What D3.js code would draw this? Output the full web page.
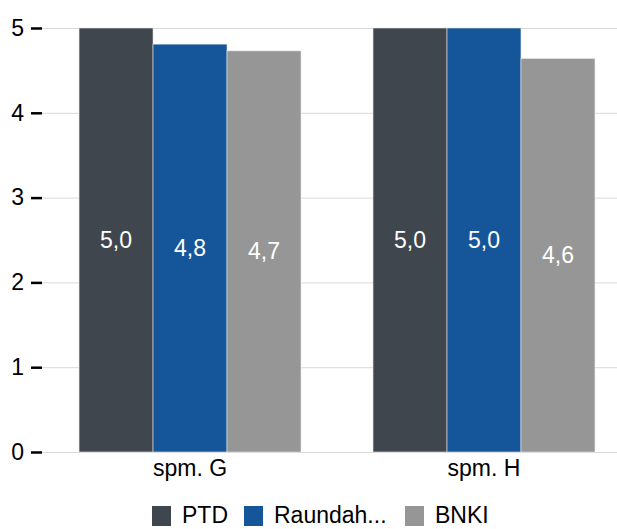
<!DOCTYPE html>
<html>
<head>
<meta charset="utf-8">
<script src="https://cdn.jsdelivr.net/npm/d3@7"></script>
<style>
  html, body { margin: 0; padding: 0; background: #fff; }
  svg { display: block; font-family: "Liberation Sans", Arial, sans-serif; }
</style>
</head>
<body>
<div id="chart"></div>
<script>
// chart data
const categories = ['spm. G', 'spm. H'];
const seriesNames = ['PTD', 'Raundah...', 'BNKI'];
const seriesColors = ['#40464d', '#15569a', '#969696'];
const ptdValues = [5.0, 5.0];
const raundahValues = [4.81, 5.0];
const bnkiValues = [4.73, 4.64];
const yTicks = [0, 1, 2, 3, 4, 5];

const seriesValues = [ptdValues, raundahValues, bnkiValues];

const width = 617, height = 529;
const fontSize = 23;
const svg = d3.select('#chart').append('svg')
    .attr('width', width)
    .attr('height', height);

const plotLeft = 42, plotRight = 632;
const y = d3.scaleLinear().domain([0, 5]).range([452, 28]);

const x0 = d3.scaleBand()
    .domain(categories)
    .range([plotLeft, plotRight])
    .paddingInner(0.245)
    .paddingOuter(0.126);

const x1 = d3.scaleBand()
    .domain(seriesNames)
    .range([0, x0.bandwidth()]);

// gridlines
svg.append('g').selectAll('line')
    .data(yTicks)
    .enter().append('line')
    .attr('x1', plotLeft)
    .attr('x2', width)
    .attr('y1', d => y(d) + 0.5)
    .attr('y2', d => y(d) + 0.5)
    .attr('stroke', '#d9d9d9')
    .attr('stroke-width', 1);

// bars
const rows = [];
categories.forEach((c, i) => {
    seriesNames.forEach((s, j) => {
        rows.push({ cat: c, series: s, color: seriesColors[j], value: seriesValues[j][i] });
    });
});

const bars = svg.append('g').selectAll('g')
    .data(rows)
    .enter().append('g');

bars.append('rect')
    .attr('x', d => x0(d.cat) + x1(d.series))
    .attr('y', d => y(d.value))
    .attr('width', x1.bandwidth())
    .attr('height', d => y(0) - y(d.value))
    .attr('fill', d => d.color)
    .attr('stroke', '#e6e6e6')
    .attr('stroke-width', 0.6);

bars.append('text')
    .attr('x', d => x0(d.cat) + x1(d.series) + x1.bandwidth() / 2)
    .attr('y', d => (y(d.value) + y(0)) / 2)
    .attr('dy', '0.35em')
    .attr('text-anchor', 'middle')
    .attr('fill', '#fff')
    .attr('font-size', fontSize)
    .text(d => d.value.toFixed(1).replace('.', ','));

// y axis
const yAxis = d3.axisLeft(y)
    .tickValues(yTicks)
    .tickSize(11)
    .tickPadding(7)
    .tickFormat(d3.format('d'));

const yg = svg.append('g')
    .attr('transform', `translate(${plotLeft},0)`)
    .call(yAxis);
yg.select('.domain').remove();
yg.selectAll('.tick line').attr('stroke', '#000').attr('stroke-width', 2.5);
yg.selectAll('.tick text')
    .attr('font-size', fontSize)
    .attr('font-family', '"Liberation Sans", Arial, sans-serif')
    .attr('fill', '#000');

// x axis labels
const xAxis = d3.axisBottom(x0).tickSize(0).tickPadding(8);
const xg = svg.append('g')
    .attr('transform', `translate(0,${y(0)})`)
    .call(xAxis);
xg.select('.domain').remove();
xg.selectAll('.tick text')
    .attr('font-size', fontSize)
    .attr('font-family', '"Liberation Sans", Arial, sans-serif')
    .attr('fill', '#000');

// legend (nudged up a little so the text is not clipped)
const legendItems = [
    { name: seriesNames[0], color: seriesColors[0], x: 152 },
    { name: seriesNames[1], color: seriesColors[1], x: 244 },
    { name: seriesNames[2], color: seriesColors[2], x: 405 }
];
const legend = svg.append('g').selectAll('g')
    .data(legendItems)
    .enter().append('g')
    .attr('transform', d => `translate(${d.x},506)`);

legend.append('rect')
    .attr('width', 19)
    .attr('height', 20)
    .attr('fill', d => d.color);

legend.append('text')
    .attr('x', 30)
    .attr('y', 17)
    .attr('font-size', fontSize)
    .attr('fill', '#000')
    .text(d => d.name);
</script>
</body>
</html>
